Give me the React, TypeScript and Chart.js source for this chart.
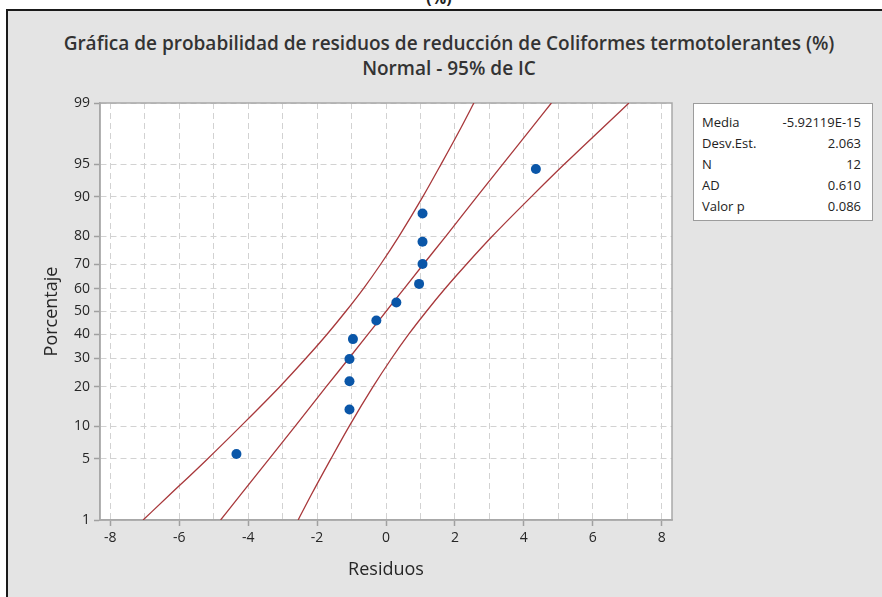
import React, { useEffect, useRef } from 'react';
import { Chart, registerables } from 'chart.js';

Chart.register(...registerables);

// Observed residuals (sorted) and their plotting percentages
const residuals = [-4.34, -1.06, -1.06, -1.06, -0.96, -0.28, 0.3, 0.96, 1.06, 1.06, 1.06, 4.35];
const residualPct = [5.6, 13.7, 21.8, 29.8, 37.9, 46.0, 54.0, 62.1, 70.2, 78.2, 86.3, 94.4];

// Fitted line and 95% CI band, read at these percentages
const bandPct = [1, 2, 5, 10, 20, 30, 40, 50, 60, 70, 80, 90, 95, 98, 99];
const fitLine = [-4.8, -4.24, -3.39, -2.64, -1.74, -1.08, -0.52, 0, 0.52, 1.08, 1.74, 2.64, 3.39, 4.24, 4.8];
const lowerBand = [-7.05, -6.3, -5.18, -4.22, -3.09, -2.33, -1.71, -1.17, -0.66, -0.16, 0.38, 1.07, 1.6, 2.18, 2.55];
const upperBand = [-2.55, -2.18, -1.6, -1.07, -0.38, 0.16, 0.66, 1.17, 1.71, 2.33, 3.09, 4.22, 5.18, 6.3, 7.05];

const yTickPct = [1, 5, 10, 20, 30, 40, 50, 60, 70, 80, 90, 95, 99];
const xTicks = [-8, -7, -6, -5, -4, -3, -2, -1, 0, 1, 2, 3, 4, 5, 6, 7, 8];

const titleLines = ['Gráfica de probabilidad de residuos de reducción de Coliformes termotolerantes (%)', 'Normal - 95% de IC'];
const statLabels = ['Media', 'Desv.Est.', 'N', 'AD', 'Valor p'];
const statValues = ['-5.92119E-15', '2.063', '12', '0.610', '0.086'];

const FONT = "'Open Sans', 'Noto Sans', sans-serif";

// inverse standard normal CDF (probability-scale transform)
function probit(p: number): number {
  const a = [-39.69683028665376, 220.9460984245205, -275.9285104469687, 138.357751867269, -30.66479806614716, 2.506628277459239];
  const b = [-54.47609879822406, 161.5858368580409, -155.6989798598866, 66.80131188771972, -13.28068155288572];
  const c = [-0.007784894002430293, -0.3223964580411365, -2.400758277161838, -2.549732539343734, 4.374664141464968, 2.938163982698783];
  const d = [0.007784695709041462, 0.3224671290700398, 2.445134137142996, 3.754408661907416];
  const plow = 0.02425;
  const phigh = 1 - plow;
  if (p < plow) {
    const q = Math.sqrt(-2 * Math.log(p));
    return (((((c[0] * q + c[1]) * q + c[2]) * q + c[3]) * q + c[4]) * q + c[5]) / ((((d[0] * q + d[1]) * q + d[2]) * q + d[3]) * q + 1);
  }
  if (p <= phigh) {
    const q = p - 0.5;
    const r = q * q;
    return ((((((a[0] * r + a[1]) * r + a[2]) * r + a[3]) * r + a[4]) * r + a[5]) * q) / (((((b[0] * r + b[1]) * r + b[2]) * r + b[3]) * r + b[4]) * r + 1);
  }
  const q = Math.sqrt(-2 * Math.log(1 - p));
  return -(((((c[0] * q + c[1]) * q + c[2]) * q + c[3]) * q + c[4]) * q + c[5]) / ((((d[0] * q + d[1]) * q + d[2]) * q + d[3]) * q + 1);
}

const toPoints = (xs: number[], ps: number[]) => xs.map((x, i) => ({ x, y: probit(ps[i] / 100) }));

const plotFrame = {
  id: 'plotFrame',
  beforeDraw(chart: any) {
    const { ctx, chartArea: a } = chart;
    ctx.save();
    ctx.fillStyle = '#ffffff';
    ctx.fillRect(a.left, a.top, a.right - a.left, a.bottom - a.top);
    ctx.restore();
  },
  beforeDatasetsDraw(chart: any) {
    const { ctx, chartArea: a } = chart;
    ctx.save();
    ctx.strokeStyle = '#a8a8a8';
    ctx.lineWidth = 1.5;
    ctx.strokeRect(a.left, a.top, a.right - a.left, a.bottom - a.top);
    ctx.restore();
  },
};

export default function App() {
  const ref = useRef<HTMLCanvasElement>(null);

  useEffect(() => {
    if (!ref.current) return;
    const curve = (data: any[]) => ({
      type: 'line' as const,
      data,
      showLine: true,
      borderColor: '#a8383b',
      borderWidth: 1.3,
      pointRadius: 0,
      cubicInterpolationMode: 'monotone' as const,
      fill: false,
    });
    const chart = new Chart(ref.current, {
      type: 'scatter',
      data: {
        datasets: [
          {
            data: toPoints(residuals, residualPct),
            pointRadius: 5,
            pointBackgroundColor: '#0a56a8',
            pointBorderColor: '#0a56a8',
            pointBorderWidth: 0,
          } as any,
          curve(toPoints(fitLine, bandPct)),
          curve(toPoints(lowerBand, bandPct)),
          curve(toPoints(upperBand, bandPct)),
        ],
      },
      options: {
        animation: false,
        responsive: false,
        events: [],
        layout: { padding: { left: 0, top: 103, right: 210, bottom: 0 } },
        plugins: { legend: { display: false }, title: { display: false }, tooltip: { enabled: false } },
        scales: {
          x: {
            type: 'linear',
            min: -8.3,
            max: 8.3,
            afterBuildTicks: (s: any) => {
              s.ticks = xTicks.map((v) => ({ value: v }));
            },
            afterFit: (s: any) => {
              s.height = 77;
            },
            ticks: {
              autoSkip: false,
              maxRotation: 0,
              padding: 4,
              color: '#262626',
              font: { family: FONT, size: 14 },
              callback: (_v: any, i: number) => (xTicks[i] % 2 === 0 ? String(xTicks[i]) : ''),
            },
            grid: {
              color: '#d2d2d2',
              lineWidth: 1,
              tickLength: 6,
              tickWidth: 1.5,
              tickColor: (c: any) => (c.tick && Math.abs(c.tick.value) % 2 === 0 ? '#a0a0a0' : 'rgba(0,0,0,0)'),
            },
            border: { color: '#a8a8a8', width: 1.5, dash: [6, 4] },
            title: {
              display: true,
              text: 'Residuos',
              color: '#262626',
              font: { family: FONT, size: 18, weight: '500' },
              padding: { top: 0, bottom: 16 },
            },
          },
          y: {
            type: 'linear',
            min: probit(0.01),
            max: probit(0.99),
            afterBuildTicks: (s: any) => {
              s.ticks = yTickPct.map((p) => ({ value: probit(p / 100) }));
            },
            afterFit: (s: any) => {
              s.width = 100;
            },
            ticks: {
              autoSkip: false,
              padding: 4,
              color: '#262626',
              font: { family: FONT, size: 14 },
              callback: (_v: any, i: number) => String(yTickPct[i]),
            },
            grid: { color: '#d2d2d2', lineWidth: 1, tickLength: 6, tickWidth: 1.5, tickColor: '#a0a0a0' },
            border: { color: '#a8a8a8', width: 1.5, dash: [6, 4] },
            title: {
              display: true,
              text: 'Porcentaje',
              color: '#262626',
              font: { family: FONT, size: 18, weight: '500' },
              padding: { top: 41, bottom: 0 },
            },
          },
        },
      },
      plugins: [plotFrame],
    } as any);
    return () => chart.destroy();
  }, []);

  return (
    <div style={{ position: 'fixed', left: 0, top: 0, width: 882, height: 597, background: '#ffffff', overflow: 'hidden', fontFamily: FONT }}>
      <div style={{ position: 'absolute', left: 0, top: -13, width: 882, textAlign: 'center', fontSize: 16, fontWeight: 700, color: '#222', paddingLeft: 0 }}>
        <span style={{ position: 'relative', left: -2 }}>(%)</span>
      </div>
      <div style={{ position: 'absolute', left: 6, top: 9, width: 920, height: 640, border: '2px solid #1a1a1a', background: '#e4e4e4', boxSizing: 'border-box' }} />
      <div style={{ position: 'absolute', left: 0, top: 31, width: 898, textAlign: 'center', fontSize: 19, fontWeight: 600, lineHeight: '25px', color: '#333333' }}>
        {titleLines.map((t) => (
          <div key={t}>{t}</div>
        ))}
      </div>
      <canvas ref={ref} width={882} height={597} style={{ position: 'absolute', left: 0, top: 0, width: 882, height: 597 }} />
      <div style={{ position: 'absolute', left: 693, top: 103, width: 180, height: 118, boxSizing: 'border-box', border: '1px solid #9c9c9c', background: '#ffffff', paddingTop: 8, fontSize: 13, fontWeight: 500, color: '#222222' }}>
        {statLabels.map((l, i) => (
          <div key={l} style={{ display: 'flex', justifyContent: 'space-between', height: 21, lineHeight: '21px', paddingLeft: 8, paddingRight: 11 }}>
            <span>{l}</span>
            <span>{statValues[i]}</span>
          </div>
        ))}
      </div>
    </div>
  );
}
